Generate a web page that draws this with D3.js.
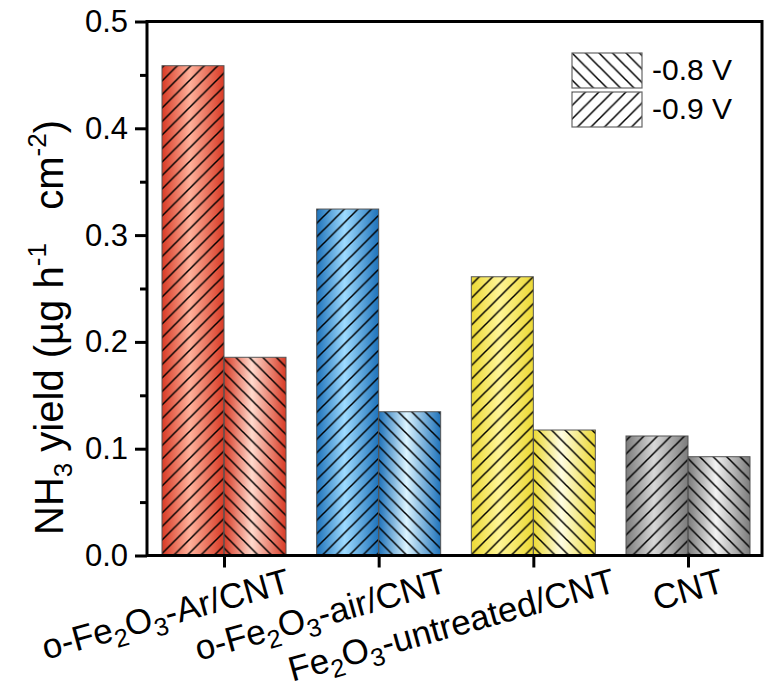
<!DOCTYPE html>
<html>
<head>
<meta charset="utf-8">
<script src="https://cdn.jsdelivr.net/npm/d3@7"></script>
<style>
  body { margin: 0; background: #fff; }
  text { font-family: Arial, "Liberation Sans", sans-serif; fill: #000; }
</style>
</head>
<body>
<div id="chart"></div>
<script>
// data
var categories = ["o-Fe_{2}O_{3}-Ar/CNT", "o-Fe_{2}O_{3}-air/CNT", "Fe_{2}O_{3}-untreated/CNT", "CNT"];
var seriesNames = ["-0.9 V", "-0.8 V"];
var yield09 = [0.4586, 0.3244, 0.2610, 0.1119];
var yield08 = [0.1856, 0.1346, 0.1175, 0.0925];
var yMajorTicks = [0.0, 0.1, 0.2, 0.3, 0.4, 0.5];
var yMinorTicks = [0.05, 0.15, 0.25, 0.35, 0.45];
var legendOrder = ["-0.8 V", "-0.9 V"];

(function() {
    // styles
    var palette = [
        { edge: "#d83a25", mid: "#ffb19b", light: "#ffdacd" },
        { edge: "#1e72ba", mid: "#9edbff", light: "#dbf4ff" },
        { edge: "#ecd935", mid: "#fff597", light: "#fffde3" },
        { edge: "#7b7b7b", mid: "#d8d8d8", light: "#f3f3f3" }
    ];
    var hatchOf = { "-0.9 V": "fwd", "-0.8 V": "back" };
    var labelNudge = [68, 70, 84, 38];

    var width = 765, height = 690;
    var mLeft = 147, mRight = 762, mTop = 21.5, mBottom = 555.5;

    var svg = d3.select("#chart").append("svg")
        .attr("width", width)
        .attr("height", height);

    var defs = svg.append("defs");

    // hatch patterns
    var step = 13.5;
    var fwd = defs.append("pattern").attr("id", "fwd")
        .attr("patternUnits", "userSpaceOnUse")
        .attr("width", step).attr("height", step);
    fwd.append("path")
        .attr("d", "M0," + step + " L" + step + ",0 M" + (-step / 2) + "," + (step / 2) + " L" + (step / 2) + "," + (-step / 2) +
            " M" + (step / 2) + "," + (step * 1.5) + " L" + (step * 1.5) + "," + (step / 2))
        .attr("stroke", "#000").attr("stroke-width", 1.5);
    var back = defs.append("pattern").attr("id", "back")
        .attr("patternUnits", "userSpaceOnUse")
        .attr("width", step).attr("height", step);
    back.append("path")
        .attr("d", "M0,0 L" + step + "," + step + " M" + (-step / 2) + "," + (step / 2) + " L" + (step / 2) + "," + (step * 1.5) +
            " M" + (step / 2) + "," + (-step / 2) + " L" + (step * 1.5) + "," + (step / 2))
        .attr("stroke", "#000").attr("stroke-width", 1.5);

    // cylinder-ish gradients
    palette.forEach(function(p, i) {
        [["g" + i + "a", p.mid], ["g" + i + "b", p.light]].forEach(function(g) {
            var lg = defs.append("linearGradient").attr("id", g[0])
                .attr("x1", 0).attr("x2", 1).attr("y1", 0).attr("y2", 0);
            lg.append("stop").attr("offset", "0%").attr("stop-color", p.edge);
            lg.append("stop").attr("offset", "45%").attr("stop-color", g[1]);
            lg.append("stop").attr("offset", "100%").attr("stop-color", p.edge);
        });
    });

    var y = d3.scaleLinear().domain([0, 0.5]).range([mBottom, mTop]);
    var x = d3.scalePoint().domain(categories).range([224, 688]);
    var xs = d3.scaleBand().domain(seriesNames).range([-62, 62]);

    var rows = [];
    categories.forEach(function(c, i) {
        rows.push({ cat: c, i: i, s: "-0.9 V", v: yield09[i], grad: "g" + i + "a" });
        rows.push({ cat: c, i: i, s: "-0.8 V", v: yield08[i], grad: "g" + i + "b" });
    });

    var bars = svg.append("g");
    bars.selectAll("rect.fill").data(rows).enter().append("rect")
        .attr("x", function(d) { return x(d.cat) + xs(d.s); })
        .attr("y", function(d) { return y(d.v); })
        .attr("width", xs.bandwidth())
        .attr("height", function(d) { return y(0) - y(d.v); })
        .attr("fill", function(d) { return "url(#" + d.grad + ")"; });
    bars.selectAll("rect.hatch").data(rows).enter().append("rect")
        .attr("x", function(d) { return x(d.cat) + xs(d.s); })
        .attr("y", function(d) { return y(d.v); })
        .attr("width", xs.bandwidth())
        .attr("height", function(d) { return y(0) - y(d.v); })
        .attr("fill", function(d) { return "url(#" + hatchOf[d.s] + ")"; })
        .attr("stroke", "#555").attr("stroke-width", 1);

    // frame
    svg.append("rect")
        .attr("x", mLeft).attr("y", mTop)
        .attr("width", mRight - mLeft).attr("height", mBottom - mTop)
        .attr("fill", "none").attr("stroke", "#000").attr("stroke-width", 3);

    // y axis
    var yAxis = svg.append("g").attr("transform", "translate(" + mLeft + ",0)")
        .call(d3.axisLeft(y).tickValues(yMajorTicks).tickSize(12).tickPadding(7).tickFormat(d3.format(".1f")));
    yAxis.select(".domain").remove();
    yAxis.selectAll("line").attr("stroke-width", 3);
    yAxis.selectAll("text").attr("font-size", 31).attr("font-family", "Arial, 'Liberation Sans', sans-serif");
    var yMinor = svg.append("g").attr("transform", "translate(" + mLeft + ",0)")
        .call(d3.axisLeft(y).tickValues(yMinorTicks).tickSize(7).tickFormat(""));
    yMinor.select(".domain").remove();
    yMinor.selectAll("line").attr("stroke-width", 3);

    // x axis
    var xAxis = svg.append("g").attr("transform", "translate(0," + mBottom + ")")
        .call(d3.axisBottom(x).tickSize(12).tickFormat(""));
    xAxis.select(".domain").remove();
    xAxis.selectAll("line").attr("stroke-width", 3);

    function rich(sel, str, size, scale) {
        var parts = str.split(/([_^]\{[^}]*\})/).filter(function(s) { return s.length; });
        var shift = 0;
        parts.forEach(function(p) {
            var m = p.match(/^([_^])\{(.*)\}$/);
            var ts = sel.append("tspan");
            if (m) {
                var d = m[1] === "_" ? size * 0.22 : -size * 0.42;
                ts.attr("dy", d - shift).attr("font-size", size * scale).text(m[2]);
                shift = d;
            } else {
                ts.attr("dy", -shift).text(p);
                shift = 0;
            }
        });
    }

    var xLabelSize = 35;
    categories.forEach(function(c, i) {
        var t = svg.append("text")
            .attr("font-size", xLabelSize)
            .attr("text-anchor", "end")
            .attr("transform", "translate(" + (x(c) + labelNudge[i]) + "," + (mBottom + 36) + ") rotate(-15.5)");
        rich(t, c, xLabelSize, 0.72);
    });

    // y title
    var yTitleSize = 40;
    var yt = svg.append("text")
        .attr("font-size", yTitleSize)
        .attr("text-anchor", "start")
        .style("white-space", "pre")
        .attr("transform", "translate(63,535) rotate(-90)");
    rich(yt, "NH_{3} yield (\u00b5g h^{-1}   cm^{-2})", yTitleSize, 0.65);

    // legend
    var legend = svg.append("g");
    legendOrder.forEach(function(s, i) {
        var g = legend.append("g").attr("transform", "translate(572," + (53 + i * 39) + ")");
        g.append("rect").attr("width", 70).attr("height", 35)
            .attr("fill", "url(#" + hatchOf[s] + ")")
            .attr("stroke", "#666").attr("stroke-width", 1.2);
        g.append("text").attr("x", 80).attr("y", 27)
            .attr("font-size", 30)
            .text(s);
    });
})();
</script>
</body>
</html>
